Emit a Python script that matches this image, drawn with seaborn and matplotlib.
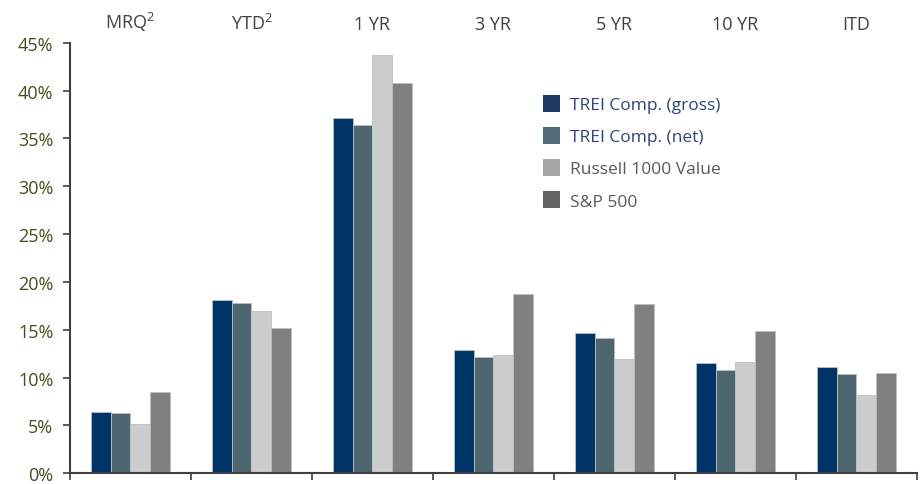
import pandas as pd
import numpy as np
import matplotlib
matplotlib.use("Agg")
import matplotlib.pyplot as plt
import seaborn as sns
from matplotlib.patches import Patch

# data (%)
periods = ['MRQ$^2$', 'YTD$^2$', '1 YR', '3 YR', '5 YR', '10 YR', 'ITD']
series = ['TREI Comp. (gross)', 'TREI Comp. (net)', 'Russell 1000 Value', 'S&P 500']
gross = [6.4, 18.1, 37.1, 12.9, 14.7, 11.5, 11.1]
net = [6.3, 17.8, 36.4, 12.2, 14.1, 10.8, 10.4]
r1000v = [5.2, 17.0, 43.7, 12.4, 11.9, 11.6, 8.2]
sp500 = [8.5, 15.2, 40.8, 18.7, 17.7, 14.9, 10.5]

bar_colors = ['#003366', '#4d6670', '#cccccc', '#808080']
legend_colors = ['#1f3864', '#4f6b74', '#a6a6a6', '#636363']
legend_text = ['#2b4478', '#2b4478', '#595959', '#595959']

df = pd.DataFrame({'period': periods * 4,
                   'series': np.repeat(series, len(periods)),
                   'value': gross + net + r1000v + sp500})

sns.set_style("white")
plt.rcParams['font.family'] = ['Open Sans', 'DejaVu Sans']
plt.rcParams['mathtext.default'] = 'regular'

fig = plt.figure(figsize=(9.23, 4.85), dpi=100)
ax = fig.add_axes([0.0758, 0.022, 0.9177, 0.8879])

sns.barplot(data=df, x='period', y='value', hue='series', order=periods,
            hue_order=series, palette=bar_colors, saturation=1, width=0.65, ax=ax,
            edgecolor='#b8c0c8', linewidth=0.6, legend=False)

ax.set_ylim(0, 45)
ax.set_xlim(-0.5, 6.5)
ax.set_yticks(np.arange(0, 46, 5))
ax.set_yticklabels([f'{v}%' for v in range(0, 46, 5)], fontsize=13, color='#4a4a1e')
ax.set_xlabel('')
ax.set_ylabel('')

# labels on top, boundary ticks at the bottom
ax.set_xticks(range(len(periods)))
ax.set_xticklabels(periods, fontsize=13, color='#404040')
ax.tick_params(axis='x', which='major', length=0, labeltop=True, labelbottom=False, pad=7)
ax.set_xticks(np.arange(-0.5, 7, 1), minor=True)
ax.tick_params(axis='x', which='minor', length=5, width=1.2, color='#404040', direction='out', bottom=True)
ax.tick_params(axis='y', length=5, width=1.2, color='#404040', direction='out', left=True, pad=7)

for s in ['top', 'right']:
    ax.spines[s].set_visible(False)
for s in ['left', 'bottom']:
    ax.spines[s].set_color('#404040')
    ax.spines[s].set_linewidth(1.5)

handles = [Patch(facecolor=c, edgecolor='none') for c in legend_colors]
leg = ax.legend(handles, series, loc='upper left', bbox_to_anchor=(0.54, 0.915),
                frameon=False, fontsize=12.5, handlelength=1.0, handleheight=1.1,
                labelspacing=0.8, handletextpad=0.55)
for t, c in zip(leg.get_texts(), legend_text):
    t.set_color(c)

fig.savefig('out.png', dpi=100)
